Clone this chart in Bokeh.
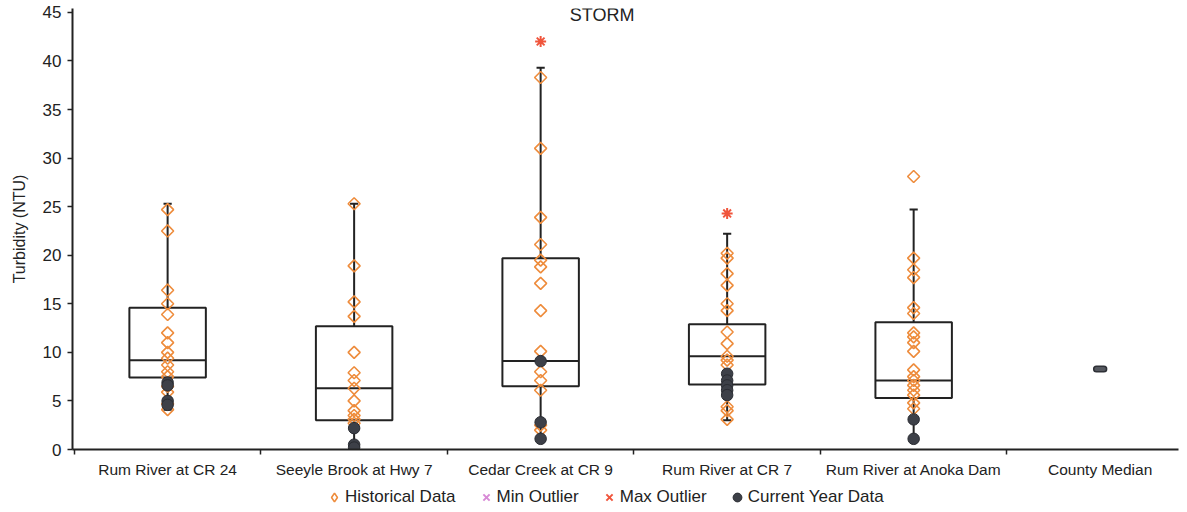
from bokeh.plotting import figure
from bokeh.models import (Range1d, LinearAxis, FixedTicker, ColumnDataSource,
                          Legend, LegendItem, Label)
from bokeh.layouts import column
from bokeh.embed import file_html
from bokeh.resources import INLINE

# ---------------- data ----------------
sites = ["Rum River at CR 24", "Seeyle Brook at Hwy 7", "Cedar Creek at CR 9",
         "Rum River at CR 7", "Rum River at Anoka Dam", "County Median"]

q1 = [7.4, 3.0, 6.5, 6.7, 5.3]
median = [9.2, 6.3, 9.1, 9.6, 7.1]
q3 = [14.6, 12.7, 19.7, 12.9, 13.1]
whisker_low = [4.1, 0.2, 1.1, 3.0, 1.1]
whisker_high = [25.3, 25.3, 39.3, 22.2, 24.7]

hist_cr24 = [24.7, 22.5, 16.4, 15.0, 13.9, 12.0, 11.0, 10.0, 9.4, 8.7, 8.0, 7.5, 6.5, 5.9, 4.7, 4.1]
hist_seeyle = [25.3, 18.9, 15.2, 13.7, 10.0, 7.9, 7.1, 6.3, 5.0, 4.0, 3.5, 3.1, 2.7]
hist_cedar = [38.3, 31.0, 23.9, 21.1, 19.5, 18.8, 17.1, 14.3, 10.1, 8.0, 7.1, 6.1, 2.5, 2.0]
hist_cr7 = [20.2, 19.7, 18.1, 16.9, 15.0, 14.3, 12.1, 10.9, 9.6, 9.2, 8.7, 4.4, 4.0, 3.1]
hist_anoka = [28.1, 19.7, 18.5, 17.7, 14.6, 14.0, 12.0, 11.6, 11.0, 10.1, 8.2, 7.5, 7.1, 6.6, 6.1, 5.6, 4.8, 4.2]

cur_cr24 = [6.9, 6.6, 5.0, 4.6]
cur_seeyle = [2.2, 0.5, 0.2]
cur_cedar = [9.1, 2.8, 1.1]
cur_cr7 = [7.8, 7.1, 6.6, 6.1, 5.6]
cur_anoka = [3.1, 1.1]

max_outlier_site = [2, 3]
max_outlier_value = [42.0, 24.3]

county_median = [8.3]

historical = [hist_cr24, hist_seeyle, hist_cedar, hist_cr7, hist_anoka]
current = [cur_cr24, cur_seeyle, cur_cedar, cur_cr7, cur_anoka]

# ---------------- styles ----------------
FONT = "Liberation Sans"
TXT = "#222222"
ORANGE = "#EE8C3C"
DARK = "#3d4048"
HIST_STYLE = dict(marker="square", angle=0.785398, size=8.5, fill_alpha=0,
                  line_color=ORANGE, line_width=1.6)
CUR_STYLE = dict(marker="circle", size=11.5, fill_color=DARK, line_color="#2a2c32", line_width=1)
MAX_STYLE = dict(marker="asterisk", size=11, line_color="#f0553c", line_width=2)

# ---------------- main figure ----------------
p = figure(width=1185, height=482, x_range=Range1d(-0.51, 5.42), y_range=Range1d(0, 45.4),
           output_backend="svg", toolbar_location=None, x_axis_location=None,
           min_border_left=72, min_border_right=7, min_border_top=8, min_border_bottom=33)
p.grid.visible = False
p.outline_line_color = None
p.background_fill_color = "white"

ya = p.yaxis[0]
ya.ticker = FixedTicker(ticks=list(range(0, 46, 5)))
ya.axis_label = "Turbidity (NTU)"
ya.axis_label_text_font = FONT
ya.axis_label_text_font_size = "16px"
ya.axis_label_text_font_style = "normal"
ya.axis_label_text_color = TXT
ya.axis_label_standoff = 12
ya.major_label_text_font = FONT
ya.major_label_text_font_size = "17px"
ya.major_label_text_color = TXT
ya.major_label_standoff = 6
ya.major_tick_in = 0
ya.major_tick_out = 5
ya.minor_tick_line_color = None
ya.axis_line_width = 2
ya.axis_line_color = TXT
ya.major_tick_line_width = 1.5
ya.major_tick_line_color = TXT

n = len(sites)
xa = LinearAxis(ticker=FixedTicker(ticks=list(range(n)),
                                   minor_ticks=[i - 0.5 for i in range(n + 1)]),
                major_label_overrides={i: s for i, s in enumerate(sites)})
xa.major_tick_line_color = None
xa.minor_tick_in = 0
xa.minor_tick_out = 5
xa.minor_tick_line_color = TXT
xa.minor_tick_line_width = 1.5
xa.axis_line_width = 2
xa.axis_line_color = TXT
xa.major_label_text_font = FONT
xa.major_label_text_font_size = "15.5px"
xa.major_label_text_color = TXT
xa.major_label_standoff = 5
p.add_layout(xa, "below")

# boxes and whiskers
idx = list(range(len(q1)))
box_src = ColumnDataSource(dict(x=idx, q1=q1, med=median, q3=q3, lo=whisker_low, hi=whisker_high,
                                xl=[i - 0.205 for i in idx], xr=[i + 0.205 for i in idx],
                                cl=[i - 0.022 for i in idx], cr=[i + 0.022 for i in idx]))
p.segment(x0="x", y0="q3", x1="x", y1="hi", source=box_src, line_color=TXT, line_width=2)
p.segment(x0="x", y0="lo", x1="x", y1="q1", source=box_src, line_color=TXT, line_width=2)
p.segment(x0="cl", y0="hi", x1="cr", y1="hi", source=box_src, line_color=TXT, line_width=2)
p.segment(x0="cl", y0="lo", x1="cr", y1="lo", source=box_src, line_color=TXT, line_width=2)
p.vbar(x="x", width=0.41, bottom="q1", top="q3", source=box_src,
       fill_color="white", line_color=TXT, line_width=2)
p.segment(x0="xl", y0="med", x1="xr", y1="med", source=box_src, line_color=TXT, line_width=2)

# county median dash
p.segment(x0=[5 - 0.02], y0=county_median, x1=[5 + 0.02], y1=county_median,
          line_color="#2e3036", line_width=7, line_cap="round")
p.segment(x0=[5 - 0.02], y0=county_median, x1=[5 + 0.02], y1=county_median,
          line_color="#55585f", line_width=4, line_cap="round")

# points
hx, hy = [], []
for i, vals in enumerate(historical):
    hx += [i] * len(vals)
    hy += vals
cx, cy = [], []
for i, vals in enumerate(current):
    cx += [i] * len(vals)
    cy += vals

p.scatter(hx, hy, **HIST_STYLE)
p.scatter(cx, cy, **CUR_STYLE)
p.scatter(max_outlier_site, max_outlier_value, **MAX_STYLE)

p.add_layout(Label(x=2.33, y=44.68, text="STORM", text_align="center", text_baseline="middle",
                   text_font=FONT, text_font_size="18px", text_color=TXT))

# ---------------- legend strip ----------------
lg = figure(width=1185, height=28, x_range=Range1d(0, 1), y_range=Range1d(0, 1),
            output_backend="svg", toolbar_location=None,
            x_axis_location=None, y_axis_location=None, min_border=0)
lg.grid.visible = False
lg.outline_line_color = None
# one off-screen point each so that the legend draws its glyphs
l_hist = lg.scatter([-5], [-5], marker="diamond", fill_alpha=0, line_color=ORANGE, line_width=1.6)
l_min = lg.scatter([-5], [-5], marker="x", line_color="#d88ad6", line_width=2)
l_max = lg.scatter([-5], [-5], marker="x", line_color="#f0553c", line_width=2)
l_cur = lg.scatter([-5], [-5], marker="circle", fill_color=DARK, line_color="#2a2c32", line_width=1)

legend = Legend(items=[LegendItem(label="Historical Data", renderers=[l_hist]),
                       LegendItem(label="Min Outlier", renderers=[l_min]),
                       LegendItem(label="Max Outlier", renderers=[l_max]),
                       LegendItem(label="Current Year Data", renderers=[l_cur])],
                orientation="horizontal", location=(251, 2),
                border_line_color=None, background_fill_alpha=0,
                label_text_font=FONT, label_text_font_size="17px", label_text_color=TXT,
                glyph_width=22, glyph_height=22, label_height=16, label_standoff=0,
                spacing=19, padding=0, margin=0)
lg.add_layout(legend, "center")

layout = column(p, lg, spacing=0)
open("out.html", "w").write(file_html(layout, INLINE))
